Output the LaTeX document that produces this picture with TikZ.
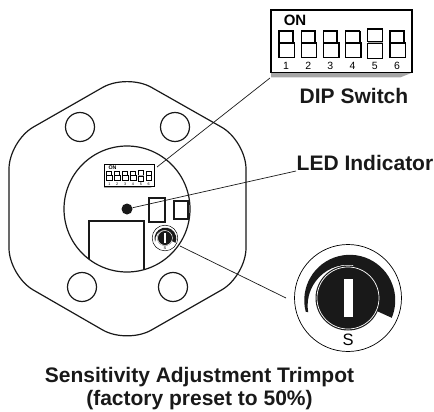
\documentclass[tikz,border=0pt]{standalone}
\usepackage{fontspec}
\setmainfont{Liberation Sans}
\usetikzlibrary{positioning}

\newcommand{\dipswitch}[5]{%
  \begin{scope}[shift={(#1,#2)},scale=#3,transform shape,name prefix=#4,line width=#5]
    \fill[black!35] (0,62.7) -- (141,62.7) -- (129,67.5) -- (0,67.5) -- cycle;
    \draw (0,0) rectangle (141,62.7);
    \node[onlabel] (on) at (24,10.7) {ON};
    \foreach \i in {1,...,6} {
      \begin{scope}[xshift=(\i-1)*22.2]
        \ifnum\i=5
          \draw (8,19) rectangle (23,31.7);
          \fill[black!35] (8,31.7) rectangle (23,33.3);
          \draw[line width=.6*#5] (8,33.3) rectangle (23,48.3);
        \else
          \draw (8,21) rectangle (22,33);
          \draw (8,33) rectangle (23.5,47.3);
          \draw[line width=1.5*#5] (22,21) -- (22,33) (8,33) -- (23.5,33);
        \fi
        \node[numlabel] (num\i) at (15,55.7) {\i};
      \end{scope}
    }
  \end{scope}
}

\newcommand{\trimpot}[5]{%
  \begin{scope}[shift={(#1,#2)},scale=#3,transform shape,name prefix=#4]
    \draw[line width=#5] (0,0) circle (53.5);
    \fill[black!90] (-42.3,13.7) arc[start angle=165.5, end angle=382.6, radius=45.5]
      -- (30.3,13.7) -- (5,-33) arc[start angle=276.4, end angle=170.5, radius=40.8] -- cycle;
    \fill[black!90] (0,0) circle (32.5);
    \draw[white,line width=#5] (0,0) circle (31);
    \fill[white] (-4,-19) rectangle (5.3,19.3);
    \node[potlabel] (s) at (0,42) {S};
  \end{scope}
}

\begin{document}
\begin{tikzpicture}[x=1pt,y=-1pt,
  outline/.style={draw=black!90, line width=1.2pt},
  hole/.style={circle, draw=black!90, line width=1.2pt, minimum size=29pt, inner sep=0pt},
  leader/.style={draw=black!90, line width=.7pt},
  caption/.style={font=\bfseries\fontsize{21}{23}\selectfont, text=black!90, align=center, inner sep=0pt},
  onlabel/.style={font=\bfseries\fontsize{15}{15}\selectfont, inner sep=0pt},
  numlabel/.style={font=\fontsize{10.5}{10.5}\selectfont, inner sep=0pt},
  potlabel/.style={font=\fontsize{16.5}{16.5}\selectfont, inner sep=0pt}
]
    \useasboundingbox (0,0) rectangle (434,412);

    % housing
    \draw[outline, rounded corners=28pt] (127,73.5) -- (246,141) -- (246,276) -- (127,344)
        -- (9,276) -- (9,141) -- cycle;
    \node[hole] (holeA) at (80,127) {};
    \node[hole] (holeB) at (175,127) {};
    \node[hole] (holeC) at (82,287) {};
    \node[hole] (holeD) at (173,287) {};
    \draw[outline] (127,209) circle (63);

    % parts on the board
    \node[circle, fill=black!90, minimum size=11pt, inner sep=0pt] (ledDot) at (127,209) {};
    \draw[outline] (149,198) rectangle (165,222);
    \draw[outline] (174,201) rectangle (188,219);
    \draw[outline] (89,259) -- (89,221) -- (144,221) -- (144,270);

    \dipswitch{104}{164}{.355}{dipSmall}{.7pt}
    \dipswitch{271}{10}{1}{dipBig}{1.3pt}
    \trimpot{165}{238}{.24}{potSmall}{.5pt}
    \trimpot{348}{298}{1}{potBig}{.7pt}

    % leaders
    \coordinate (dipFrom) at (157,167);
    \coordinate (dipTo) at (270,78);
    \coordinate (ledTo) at (296,171);
    \coordinate (potFrom) at (180,246);
    \coordinate (potTo) at (286,298);
    \draw[leader] (dipFrom) -- (dipTo);
    \draw[leader] (ledDot) -- (ledTo);
    \draw[leader] (potFrom) -- (potTo);

    % captions
    \node[caption] (dipLabel) at (354,95.5) {DIP Switch};
    \node[caption] (ledLabel) at (365,162.5) {LED Indicator};
    \node[caption] (potLabel) at (199.5,389) {Sensitivity Adjustment Trimpot\\(factory preset to 50\%)};
\end{tikzpicture}
\end{document}
